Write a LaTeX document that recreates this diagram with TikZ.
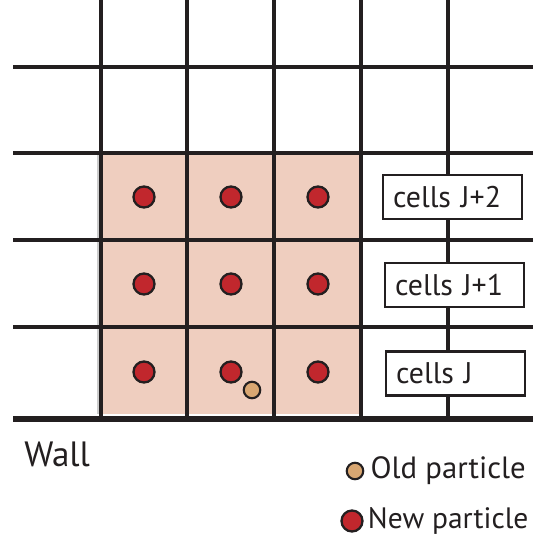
\documentclass[tikz,border=0pt]{standalone}
\usepackage{fontspec}
\setmainfont{PT Sans}
\usepackage{tikz}
\usetikzlibrary{positioning, backgrounds}
\definecolor{gridink}{HTML}{231F20}
\definecolor{cellfill}{HTML}{EFCEBF}
\definecolor{newred}{HTML}{C1272D}
\definecolor{oldtan}{HTML}{D9A772}
\tikzset{
    gridline/.style={
        draw=gridink,
        line width=2.2pt
    },
    wall/.style={
        draw=gridink,
        line width=3.3pt
    },
    newpart/.style={
        circle,
        draw=gridink,
        line width=1.3pt,
        fill=newred,
        minimum size=0.42cm,
        inner sep=0pt
    },
    oldpart/.style={
        circle,
        draw=gridink,
        line width=1.2pt,
        fill=oldtan,
        minimum size=0.33cm,
        inner sep=0pt
    },
    celllabel/.style={
        rectangle,
        draw=gridink,
        line width=1.2pt,
        fill=white,
        anchor=west,
        align=left,
        text width=2.38cm,
        inner xsep=0.2cm,
        minimum height=0.88cm,
        font=\fontsize{17}{19}\selectfont,
        text=gridink
    },
    legendtext/.style={
        font=\fontsize{17.5}{20}\selectfont,
        text=gridink,
        inner sep=0pt,
        anchor=west
    }
}

\begin{document}
\begin{tikzpicture}[x=0.02cm, y=-0.02cm]
\useasboundingbox (0,0) rectangle (533,544);

% Shaded cells next to the wall
\fill[cellfill] (101,153) rectangle (361,414);
\draw[gray!40, line width=1pt] (98,153) -- (98,414);

% Grid
\foreach \y in {67,153,240,327}
    \draw[gridline] (13,\y) -- (533,\y);
\foreach \x in {101,187,274,361,448}
    \draw[gridline] (\x,0) -- (\x,419);

% Wall
\coordinate (wl) at (13,419);
\coordinate (wr) at (533,419);
\draw[wall] (wl) -- (wr);
\node[legendtext, font=\fontsize{20}{22}\selectfont] (walltxt) at (24,454) {Wall};

% New particles in the cell centres
\foreach \i/\x in {1/144,2/231,3/318}
    \foreach \j/\y in {0/372,1/284,2/197}
        \node[newpart] (p\i\j) at (\x,\y) {};

% Old particle
\node[oldpart] (old) at (252,390) {};

% Cell row labels
\node[celllabel] (lab2) at (382,197) {cells J+2};
\node[celllabel] (lab1) at (384,285) {cells J+1};
\node[celllabel] (lab0) at (385,373.5) {cells J};

% Legend
\node[oldpart] (oldkey) at (355,471) {};
\node[legendtext, right=0.12cm of oldkey] (oldtxt) {Old particle};
\node[newpart] (newkey) at (352,521) {};
\node[legendtext, font=\fontsize{16.8}{20}\selectfont, right=0.08cm of newkey] (newtxt) {New particle};

\end{tikzpicture}
\end{document}
